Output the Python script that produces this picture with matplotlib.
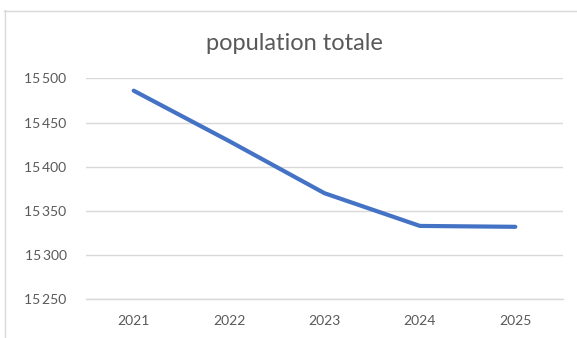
import matplotlib.pyplot as plt
from matplotlib.lines import Line2D
from matplotlib.ticker import FuncFormatter

# population par année
years = ['2021', '2022', '2023', '2024', '2025']
population = [15486, 15429, 15370, 15333, 15332]
y_ticks = [15250, 15300, 15350, 15400, 15450, 15500]

text_color = '#595959'
grid_color = '#D9D9D9'
line_color = '#4472C4'

plt.rcParams['font.family'] = ['Lato', 'DejaVu Sans']

fig = plt.figure(figsize=(5.77, 3.38), dpi=100)
ax = fig.add_axes([86 / 577, 38.7 / 338, 477 / 577, 221 / 338])

x = range(len(years))
ax.plot(x, population, color=line_color, linewidth=3.0,
        solid_capstyle='round', solid_joinstyle='round', zorder=3)

ax.set_xlim(-0.5, len(years) - 0.5)
ax.set_ylim(y_ticks[0], y_ticks[-1])
ax.set_xticks(list(x))
ax.set_xticklabels(years)
ax.set_yticks(y_ticks)
ax.yaxis.set_major_formatter(FuncFormatter(lambda v, p: f'{int(v):,}'.replace(',', '\u2009')))

ax.grid(axis='y', color=grid_color, linewidth=1.0, zorder=0)
for side in ['top', 'right', 'left']:
    ax.spines[side].set_visible(False)
ax.spines['bottom'].set_color(grid_color)
ax.spines['bottom'].set_linewidth(1.0)

ax.tick_params(axis='both', length=0, labelsize=10, labelcolor=text_color)
ax.tick_params(axis='x', pad=11)
ax.tick_params(axis='y', pad=14)

fig.text(294 / 577, 1 - 43 / 338, 'population totale', ha='center', va='center',
         fontsize=17, color=text_color)

# cadre du graphique
fig.add_artist(Line2D([4.5 / 577, 4.5 / 577], [0, 1 - 10 / 338],
                      transform=fig.transFigure, color=grid_color, linewidth=1.0))
fig.add_artist(Line2D([4 / 577, 1], [1 - 10.5 / 338, 1 - 10.5 / 338],
                      transform=fig.transFigure, color=grid_color, linewidth=1.0))

fig.savefig('out.png', dpi=100)
